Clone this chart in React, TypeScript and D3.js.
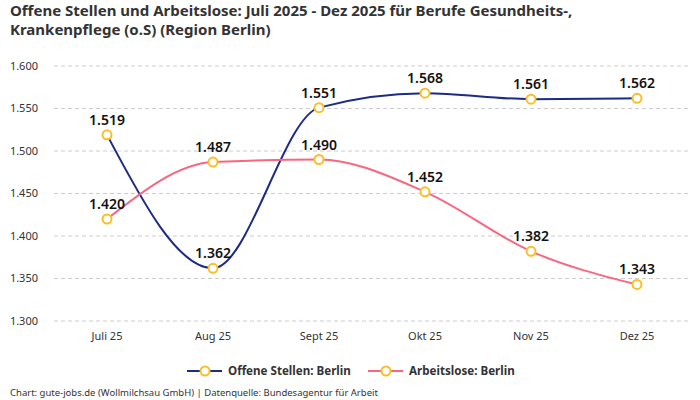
import React from 'react';
import * as d3 from 'd3';

const months = ['Juli 25', 'Aug 25', 'Sept 25', 'Okt 25', 'Nov 25', 'Dez 25'];
const offeneStellen = [1519, 1362, 1551, 1568, 1561, 1562];
const arbeitslose = [1420, 1487, 1490, 1452, 1382, 1343];
const yTicks = [1300, 1350, 1400, 1450, 1500, 1550, 1600];

const WIDTH = 700;
const HEIGHT = 400;
const FONT = "'Noto Sans', 'Open Sans', sans-serif";
const BLUE = '#1c2a8a';
const PINK = '#f7677f';
const DOT = '#fbbf24';

const fmt = (v: number) => d3.format(',')(v).replace(',', '.');

const App = () => {
  const x = d3.scalePoint<string>().domain(months).range([107, 637]);
  const y = d3.scaleLinear().domain([1300, 1600]).range([321, 66]);

  const line = d3
    .line<number>()
    .x((_, i) => x(months[i]) as number)
    .y((d) => y(d))
    .curve(d3.curveMonotoneX);

  const series = [
    { name: 'Offene Stellen: Berlin', values: offeneStellen, color: BLUE },
    { name: 'Arbeitslose: Berlin', values: arbeitslose, color: PINK },
  ];

  return (
    <svg
      width={WIDTH}
      height={HEIGHT}
      style={{ position: 'absolute', left: 0, top: 0 }}
      fontFamily={FONT}
    >
      <rect width={WIDTH} height={HEIGHT} fill="#fff" />
      <text x={10} y={16} fontSize={15} fontWeight={700} fill="#333">
        Offene Stellen und Arbeitslose: Juli 2025 - Dez 2025 für Berufe Gesundheits-,
      </text>
      <text x={10} y={35} fontSize={15} fontWeight={700} fill="#333">
        Krankenpflege (o.S) (Region Berlin)
      </text>

      {yTicks.map((t) => (
        <g key={t}>
          <line x1={54} x2={690} y1={y(t)} y2={y(t)} stroke="#ccc" strokeDasharray="4,3" />
          <text x={38} y={y(t)} dy="0.35em" textAnchor="end" fontSize={11} fill="#333">
            {fmt(t)}
          </text>
        </g>
      ))}

      {months.map((m) => (
        <text key={m} x={x(m)} y={336} dy="0.35em" textAnchor="middle" fontSize={11} fill="#333">
          {m}
        </text>
      ))}

      {series.map((s) => (
        <g key={s.name}>
          <path d={line(s.values) || ''} fill="none" stroke={s.color} strokeWidth={2} />
          {s.values.map((v, i) => (
            <g key={i}>
              <circle cx={x(months[i])} cy={y(v)} r={4.5} fill="#fff" stroke={DOT} strokeWidth={2} />
              <text
                x={x(months[i])}
                y={y(v) - 10}
                textAnchor="middle"
                fontSize={14}
                fontWeight={600}
                fill="#111"
              >
                {fmt(v)}
              </text>
            </g>
          ))}
        </g>
      ))}

      {series.map((s, i) => {
        const lx = i === 0 ? 187 : 368;
        return (
          <g key={s.name} transform={`translate(${lx},371)`}>
            <line x1={0} x2={35} y1={0} y2={0} stroke={s.color} strokeWidth={2} />
            <circle cx={18} cy={0} r={4.5} fill="#fff" stroke={DOT} strokeWidth={2} />
            <text x={41} y={0} dy="0.35em" fontSize={11.6} fontWeight={700} fill="#333">
              {s.name}
            </text>
          </g>
        );
      })}

      <text x={10} y={393} dy="0.35em" fontSize={9.5} fill="#333">
        Chart: gute-jobs.de (Wollmilchsau GmbH) | Datenquelle: Bundesagentur für Arbeit
      </text>
    </svg>
  );
};

export default App;
